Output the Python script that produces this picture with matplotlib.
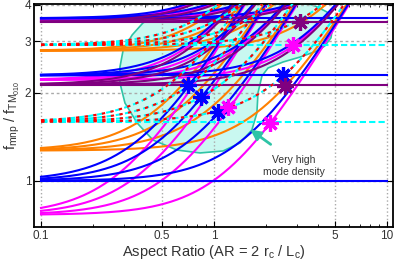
import numpy as np
import matplotlib
matplotlib.use('Agg')
import matplotlib.pyplot as plt
from matplotlib.ticker import FixedLocator, FixedFormatter, LogLocator, NullFormatter

plt.rcParams['font.family'] = ['Liberation Sans', 'DejaVu Sans']
plt.rcParams['mathtext.default'] = 'regular'

# Bessel roots of each mode family (TM uses J_m zeros, TE uses J'_m zeros)
x_tm010 = 2.405
tm0_roots = [2.405, 5.520, 8.654]
tm1_roots = [3.832, 7.016]
tm2_roots = [5.136, 8.417]
te0_roots = [3.832, 7.016]
te1_roots = [1.841, 5.331, 8.536]
te2_roots = [3.054, 6.706]
tm_p = [0, 1, 2, 3, 4]
te_p = [1, 2, 3, 4]

# marked operating points (aspect ratio, frequency ratio)
star_ar = [0.710, 0.841, 1.059, 1.210, 2.108, 2.495, 2.573, 2.851, 3.142]
star_f = [2.130, 1.943, 1.726, 1.787, 1.583, 2.305, 2.113, 2.920, 3.508]
star_col = ['#0000ff', '#0000ff', '#0000ff', '#ff00ff', '#ff00ff',
            '#0000ff', '#800080', '#ff00ff', '#800080']

ar = np.logspace(-1, 1, 400)


def ratio(root, p):
    return np.sqrt((root / x_tm010) ** 2 + (p * np.pi * ar / (2 * x_tm010)) ** 2)


fig = plt.figure(figsize=(3.95, 2.61), dpi=100)
ax = fig.add_axes([0.0861, 0.1303, 0.9101, 0.8544])
ax.set_xscale('log')
ax.set_yscale('log')
ax.set_xlim(0.0911, 10.9)
ax.set_ylim(0.696, 4.03)

# high mode density region
blob = [(0.239, 0.646), (0.239, 0.717), (0.248, 0.794), (0.273, 0.861),
        (0.303, 0.915), (0.345, 0.951), (0.398, 0.982), (0.462, 1.01),
        (0.601, 1.02), (0.726, 1.02), (0.782, 0.991), (0.815, 0.964),
        (0.832, 0.906), (0.826, 0.848), (0.809, 0.812), (0.787, 0.789),
        (0.740, 0.762), (0.693, 0.740), (0.651, 0.713), (0.634, 0.677),
        (0.623, 0.601), (0.620, 0.511), (0.606, 0.435), (0.573, 0.377),
        (0.526, 0.341), (0.462, 0.332), (0.398, 0.345), (0.331, 0.390),
        (0.287, 0.466), (0.253, 0.556)]
ax.add_patch(plt.Polygon(blob, closed=True, transform=ax.transAxes,
                         facecolor='#c9f8f0', edgecolor='#2ec4a6', lw=1.2, zorder=1))

ax.grid(True, which='major', axis='x', color='#aaaaaa', ls=':', lw=1.0, zorder=0)
ax.grid(True, which='major', axis='y', color='#aaaaaa', ls=(0, (2, 2)), lw=1.0, zorder=0)

lw = 1.5
for r in te2_roots:
    for p in te_p:
        ax.plot(ar, ratio(r, p), color='#ff8000', lw=lw, zorder=2)
for r in te1_roots:
    for p in te_p:
        ax.plot(ar, ratio(r, p), color='#ff00ff', lw=lw, zorder=2)
for r in tm0_roots:
    for p in tm_p:
        ax.plot(ar, ratio(r, p), color='#0000ff', lw=lw, zorder=2)
for r in tm2_roots:
    for p in tm_p:
        ax.plot(ar, ratio(r, p), color='#800080', lw=lw, zorder=2)
for r in tm1_roots:
    for p in tm_p:
        ax.plot(ar, ratio(r, p), color='#00ffff', lw=lw, ls=(0, (3, 1.5)), zorder=3)
for r in te0_roots:
    for p in te_p:
        ax.plot(ar, ratio(r, p), color='#ff0000', lw=lw, ls=(0, (1.6, 2.6)), zorder=3)

for a, f, c in zip(star_ar, star_f, star_col):
    ax.plot(a, f, marker=(8, 2, 0), ms=12, mew=2.3, color=c, zorder=5)

ax.annotate('', xy=(1.573, 1.518), xytext=(2.19, 1.317),
            arrowprops=dict(arrowstyle='-|>,head_width=0.3,head_length=0.6',
                            color='#2ec4a6', lw=2), zorder=6)
ax.text(2.90, 1.125, 'Very high\nmode density', ha='center', va='center',
        fontsize=7.5, color='#333333', linespacing=1.2, zorder=6)

ax.xaxis.set_major_locator(FixedLocator([0.1, 0.5, 1, 5, 10]))
ax.xaxis.set_major_formatter(FixedFormatter(['0.1', '0.5', '1', '5', '10']))
ax.xaxis.set_minor_locator(LogLocator(base=10, subs=np.arange(2, 10)))
ax.xaxis.set_minor_formatter(NullFormatter())
ax.yaxis.set_major_locator(FixedLocator([1, 2, 3, 4]))
ax.yaxis.set_major_formatter(FixedFormatter(['1', '2', '3', '4']))
ax.yaxis.set_minor_locator(FixedLocator([]))
ax.tick_params(which='both', direction='in', top=True, right=True,
               labelsize=8.5, labelcolor='#333333', pad=2)
ax.tick_params(which='major', length=4)
ax.tick_params(which='minor', length=2)
for s in ax.spines.values():
    s.set_linewidth(1.3)

ax.set_xlabel('Aspect Ratio (AR = 2 $r_c$ / $L_c$)', fontsize=10.5, color='#333333', labelpad=1)
ax.set_ylabel('$f_{mnp}$ / $f_{TM_{010}}$', fontsize=10.5, color='#333333', labelpad=2)

fig.savefig('out.png', dpi=100)
